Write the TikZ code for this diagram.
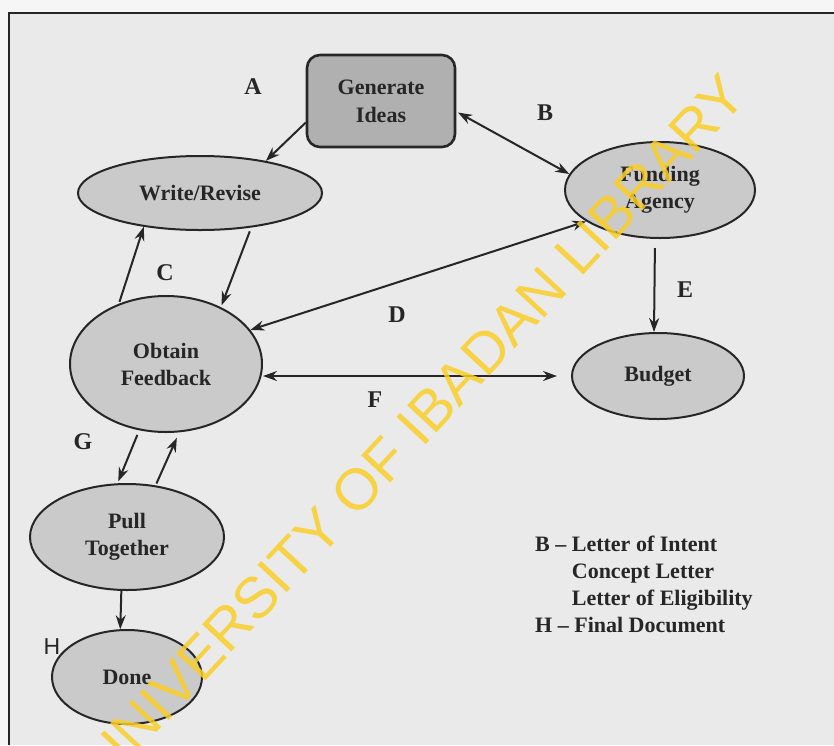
\documentclass[tikz,border=0pt]{standalone}
\usepackage{fontspec}
\setmainfont{Liberation Serif}
\newfontfamily\marksans{Liberation Sans}
\usetikzlibrary{arrows.meta,shapes.geometric}

\definecolor{paper}{RGB}{234,234,234}
\definecolor{margin}{RGB}{246,246,246}
\definecolor{ink}{RGB}{38,38,38}
\definecolor{ovalgray}{RGB}{202,202,202}
\definecolor{boxgray}{RGB}{176,176,176}
\definecolor{stamp}{RGB}{250,206,40}

\tikzset{
  oval/.style={draw=ink, fill=ovalgray, ellipse, line width=2pt, inner sep=0pt,
    align=center, text=ink, font=\fontsize{22}{27}\selectfont\bfseries},
  arr/.style={-{Stealth[length=14pt,width=10pt]}, draw=ink, line width=2pt},
  dbl/.style={{Stealth[length=14pt,width=10pt]}-{Stealth[length=14pt,width=10pt]}, draw=ink, line width=2pt},
  tag/.style={text=ink, font=\fontsize{24}{24}\selectfont\bfseries}
}

\begin{document}
\begin{tikzpicture}[x=1pt,y=-1pt]
\useasboundingbox (0,0) rectangle (834,745);
\fill [margin] (0,0) rectangle (834,745);
\fill [paper] (9,13) rectangle (834,745);
\draw [ink, line width=1.6pt] (9,745) -- (9,13) -- (834,13);

% the boxes
\node [draw=ink, fill=boxgray, rounded corners=13pt, line width=2.6pt, minimum width=148pt,
  minimum height=92pt, align=center, text=ink, font=\fontsize{22}{28}\selectfont\bfseries]
  (gen) at (381,101) {Generate\\Ideas};
\node [oval, minimum width=244pt, minimum height=74pt] (write) at (200,193) {Write/Revise};
\node [oval, minimum width=190pt, minimum height=96pt] (fund) at (660,190) {Funding\\Agency};
\node [oval, minimum width=192pt, minimum height=136pt] (obtain) at (166,364) {Obtain\\Feedback};
\node [oval, minimum width=172pt, minimum height=86pt] (budget) at (658,376) {Budget};
\node [oval, minimum width=194pt, minimum height=106pt] (pull) at (127,537) {Pull\\Together};
\node [oval, minimum width=150pt, minimum height=94pt] (done) at (127,677) {Done};

% the arrows
\draw [arr] (gen.196) -- (write.26);
\draw [dbl, shorten <=2pt] (gen.-8) -- (fund.170);
\draw [arr, shorten <=2pt] (obtain.128) -- (write.211);
\draw [arr, shorten <=4pt, shorten >=2pt] (write.-34) -- (obtain.46);
\draw [dbl] (obtain.22) -- (fund.203);
\draw [arr, shorten <=9pt] ([xshift=-5pt]fund.south) -- ([xshift=-4pt]budget.north);
\draw [dbl, shorten >=14pt] (budget.west -| obtain.east) -- (budget.west);
\draw [arr, shorten <=5pt, shorten >=2pt] (obtain.248) -- (pull.100);
\draw [arr, shorten <=2pt, shorten >=6pt] (pull.61) -- (obtain.281);
\draw [arr] (pull.264) -- (done.98);

% the letters
\node [tag] (tA) at (253,87) {A};
\node [tag] (tB) at (545,113) {B};
\node [tag] (tC) at (165,273) {C};
\node [tag] (tD) at (397,315) {D};
\node [tag] (tE) at (685,290) {E};
\node [tag] (tF) at (375,400) {F};
\node [tag] (tG) at (83,442) {G};
\node [text=ink, font=\marksans\fontsize{23}{23}\selectfont] (tH) at (52,647) {H};

\node [anchor=north west, inner sep=0pt, align=left, text=ink,
  font=\fontsize{22}{27}\selectfont\bfseries] (key) at (535,536)
  {B -- Letter of Intent\\
   \phantom{B -- }Concept Letter\\
   \phantom{B -- }Letter of Eligibility\\
   H -- Final Document};

% the stamp
\node [rotate=47, text=stamp, opacity=0.85, inner sep=0pt,
  font=\marksans\fontsize{58}{58}\selectfont] (wmark) at (414,428) {UNIVERSITY OF IBADAN LIBRARY};
\end{tikzpicture}
\end{document}
